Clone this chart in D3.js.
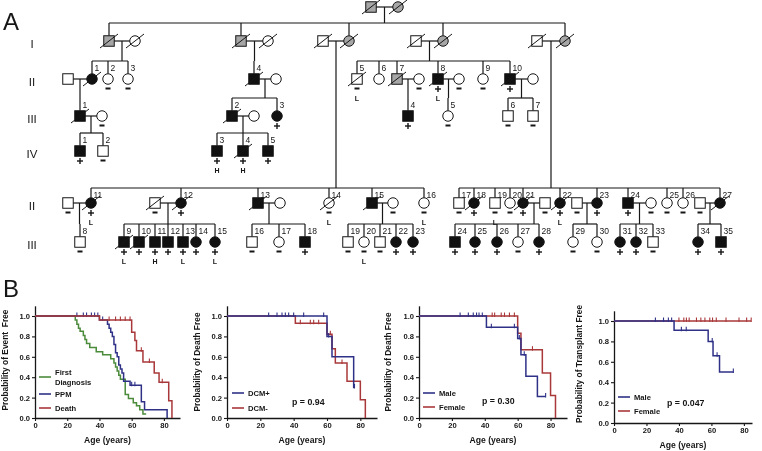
<!DOCTYPE html>
<html><head><meta charset="utf-8">
<script src="https://cdn.jsdelivr.net/npm/d3@7"></script>
<style>
body{margin:0;background:#fff}
svg{display:block;will-change:transform}
text{font-family:"Liberation Sans",Arial,Helvetica,sans-serif}
</style>
</head><body>
<svg id="c" width="762" height="451"></svg>
<script>
// ================= PANEL A : pedigree data =================
const generationLabels = ["I","II","III","IV","II","III"];
// [id, generation row, horizontal slot, sex, status(a=affected,g=grey/unknown,u=unaffected), deceased, number, test result, note]
const people = [
 ["F1",0,371,"m","g",1,"","",""],["F2",0,398,"f","g",1,"","",""],
 ["A1",1,109,"m","g",1,"","",""],["A2",1,135,"f","u",1,"","",""],
 ["B1",1,241,"m","g",1,"","",""],["B2",1,268,"f","u",1,"","",""],
 ["C1",1,323,"m","u",1,"","",""],["C2",1,349,"f","g",1,"","",""],
 ["D1",1,416,"m","u",1,"","",""],["D2",1,443,"f","g",1,"","",""],
 ["E1",1,537,"m","u",1,"","",""],["E2",1,565,"f","g",1,"","",""],
 ["sa1",2,68,"m","u",0,"","",""],["a1",2,92,"f","a",1,"1","",""],
 ["a2",2,108,"f","u",0,"2","-",""],["a3",2,128,"f","u",0,"3","-",""],
 ["b4",2,254,"m","a",1,"4","",""],["sb4",2,276,"f","u",0,"","",""],
 ["d5",2,357,"m","u",1,"5","-","L"],["d6",2,379,"f","u",0,"6","",""],
 ["d7",2,397,"m","g",1,"7","",""],["sd7",2,419,"f","u",0,"","-",""],
 ["d8",2,438,"m","a",1,"8","+","L"],["sd8",2,459,"f","u",0,"","-",""],
 ["d9",2,483,"f","u",0,"9","-",""],["d10",2,510,"m","a",1,"10","+",""],
 ["sd10",2,533,"f","u",0,"","",""],
 ["a31",3,80,"m","a",1,"1","",""],["sa31",3,102,"f","u",0,"","-",""],
 ["b32",3,232,"m","a",1,"2","",""],["sb32",3,254,"f","u",0,"","",""],
 ["b33",3,277,"f","a",0,"3","+",""],
 ["d34",3,408,"m","a",0,"4","+",""],["d35",3,448,"f","u",0,"5","-",""],
 ["d36",3,508,"m","u",0,"6","-",""],["d37",3,533,"m","u",0,"7","-",""],
 ["a41",4,80,"m","a",0,"1","+",""],["a42",4,103,"m","u",0,"2","-",""],
 ["b43",4,217,"m","a",0,"3","+","H"],["b44",4,243,"m","a",1,"4","+","H"],
 ["b45",4,268,"m","a",0,"5","+",""],
 ["sc11",5,68,"m","u",0,"","-",""],["c11",5,91,"f","a",1,"11","+","L"],
 ["sc12",5,155,"m","u",1,"","-",""],["c12",5,181,"f","a",1,"12","+",""],
 ["c13",5,258,"m","a",1,"13","",""],["sc13",5,280,"f","u",0,"","",""],
 ["c14",5,329,"f","u",1,"14","-","L"],
 ["c15",5,372,"m","a",1,"15","",""],["sc15",5,393,"f","u",0,"","-",""],
 ["c16",5,424,"f","u",0,"16","-","L"],
 ["e17",5,459,"m","u",0,"17","-",""],["e18",5,474,"f","a",1,"18","+",""],
 ["e19",5,495,"m","u",0,"19","-","L"],["e20",5,510,"f","u",0,"20","-",""],
 ["e21",5,523,"f","a",1,"21","+",""],["se21",5,545,"m","u",0,"","-",""],
 ["e22",5,560,"f","a",1,"22","+","L"],["se23",5,577,"m","u",0,"","-",""],
 ["e23",5,597,"f","a",0,"23","+",""],["e24",5,628,"m","a",0,"24","+",""],
 ["se24",5,651,"f","u",0,"","-",""],["e25",5,667,"f","u",0,"25","-",""],
 ["e26",5,683,"f","u",0,"26","-",""],["se27",5,700,"m","u",0,"","-",""],
 ["e27",5,720,"f","a",1,"27","",""],
 ["c38",6,80,"m","u",0,"8","-",""],
 ["c39",6,124,"m","a",1,"9","+","L"],["c310",6,139,"m","a",1,"10","+",""],
 ["c311",6,155,"m","a",0,"11","+","H"],["c312",6,168,"m","a",0,"12","+",""],
 ["c313",6,183,"m","a",0,"13","+","L"],["c314",6,196,"f","a",0,"14","+",""],
 ["c315",6,215,"f","a",0,"15","+","L"],
 ["c316",6,252,"m","u",0,"16","-",""],["c317",6,279,"f","u",0,"17","-",""],
 ["c318",6,305,"m","a",0,"18","+",""],
 ["c319",6,348,"m","u",0,"19","-",""],["c320",6,364,"f","u",0,"20","-","L"],
 ["c321",6,380,"m","u",0,"21","-",""],["c322",6,396,"f","a",0,"22","+",""],
 ["c323",6,413,"f","a",0,"23","+",""],
 ["e324",6,455,"m","a",0,"24","+",""],["e325",6,475,"f","a",0,"25","+",""],
 ["e326",6,497,"f","a",0,"26","+",""],["e327",6,518,"f","u",0,"27","-",""],
 ["e328",6,539,"f","a",0,"28","+",""],
 ["e329",6,573,"f","u",0,"29","-",""],["e330",6,597,"f","u",0,"30","-",""],
 ["e331",6,620,"f","a",0,"31","+",""],["e332",6,636,"f","a",0,"32","+",""],
 ["e333",6,653,"m","u",0,"33","-",""],
 ["e334",6,698,"f","a",0,"34","+",""],["e335",6,721,"m","a",0,"35","+",""]
];
const couples = [
 ["F1","F2"],["A1","A2"],["B1","B2"],["C1","C2"],["D1","D2"],["E1","E2"],
 ["sa1","a1"],["b4","sb4"],["d7","sd7"],["d8","sd8"],["d10","sd10"],
 ["a31","sa31"],["b32","sb32"],
 ["sc11","c11"],["sc12","c12"],["c13","sc13"],["c15","sc15"],
 ["e21","se21"],["se23","e23"],["e24","se24"],["se27","e27"]
];
const sibships = [
 [["F1","F2"],["A1","B1","C2","D2","E2"]],
 [["A1","A2"],["a1","a2","a3"]],
 [["B1","B2"],["b4"]],
 [["D1","D2"],["d5","d6","d7","d8","d9","d10"]],
 [["sa1","a1"],["a31"]],
 [["b4","sb4"],["b32","b33"]],
 [["d7","sd7"],["d34"]],
 [["d8","sd8"],["d35"]],
 [["d10","sd10"],["d36","d37"]],
 [["a31","sa31"],["a41","a42"]],
 [["b32","sb32"],["b43","b44","b45"]],
 [["C1","C2"],["c11","c12","c13","c14","c15","c16"]],
 [["E1","E2"],["e17","e18","e19","e20","e21","e22","e23","e24","e25","e26","e27"]],
 [["sc11","c11"],["c38"]],
 [["sc12","c12"],["c39","c310","c311","c312","c313","c314","c315"]],
 [["c13","sc13"],["c316","c317","c318"]],
 [["c15","sc15"],["c319","c320","c321","c322","c323"]],
 [["e21","se21"],["e324","e325","e326","e327","e328"]],
 [["se23","e23"],["e329","e330"]],
 [["e24","se24"],["e331","e332","e333"]],
 [["se27","e27"],["e334","e335"]]
];

// ================= PANEL B : survival data =================
const ageTicks = [0,20,40,60,80];
const probTicks = [0,0.2,0.4,0.6,0.8,1.0];
// plot 1 : event free
const firstDiagnosis = [[0,1],[25,0.96],[26,0.92],[27,0.88],[28,0.85],[30,0.81],[31,0.77],[32,0.73],[34,0.69],[38,0.65],[42,0.62],[47,0.58],[49,0.54],[50,0.50],[51,0.46],[52,0.42],[53,0.38],[56,0.23],[58,0.19],[61,0.15],[63,0.12],[65,0.08],[67,0.04],[69,0.04]];
const firstDiagnosisCens = [];
const ppm = [[0,1],[40,0.96],[45,0.92],[46,0.88],[47,0.84],[48,0.80],[49,0.72],[50,0.64],[51,0.60],[52,0.52],[53,0.48],[54,0.44],[55,0.36],[59,0.32],[66,0.16],[68,0.08],[82,0]];
const ppmCens = [[26,1],[30,1],[32,1],[35,1],[37,1],[39,1],[42,0.96],[60,0.32],[62,0.32]];
const death = [[0,1],[40,0.96],[60,0.84],[62,0.76],[63,0.66],[67,0.55],[74,0.44],[77,0.35],[83,0.17],[85,0]];
const deathCens = [[46,0.96],[50,0.96],[53,0.96],[56,0.96],[59,0.96],[66,0.66],[71,0.55],[79,0.35]];
// plot 2 : death free by DCM
const dcmPos = [[0,1],[60,0.80],[63,0.60],[76,0.30],[76.5,0.30]];
const dcmPosCens = [[25,1],[30,1],[33,1],[35,1],[37,1],[40,1],[46,1],[58,1],[61,0.8],[76.5,0.3]];
const dcmNeg = [[0,1],[41,0.93],[60,0.82],[63,0.68],[65,0.54],[72,0.36],[80,0.18],[83,0]];
const dcmNegCens = [[44,0.93],[50,0.93],[52,0.93],[55,0.93],[62,0.82],[69,0.54]];
// plot 3 : death free by sex
const deathMale = [[0,1],[41,0.89],[60,0.78],[62,0.62],[65,0.41],[72,0.21],[77,0.21]];
const deathMaleCens = [[25,1],[30,1],[33,1],[35,1],[36.5,1],[38.5,1],[44,0.89],[58,0.89],[61,0.78],[64,0.62],[77,0.21]];
const deathFemale = [[0,1],[60,0.83],[62,0.67],[75,0.44],[80,0.22],[83,0]];
const deathFemaleCens = [[44.5,1],[46,1],[50,1],[52,1],[55,1],[58,1],[69,0.67]];
// plot 4 : transplant free by sex
const txMale = [[0,1],[37,0.91],[58,0.80],[61,0.66],[65,0.50],[73.5,0.50]];
const txMaleCens = [[25.5,1],[30.5,1],[33.5,1],[35.5,1],[41.5,0.91],[44.5,0.91],[60.5,0.80],[63.5,0.66],[73.5,0.50]];
const txFemale = [[0,1],[84.5,1]];
const txFemaleCens = [[40,1],[43,1],[44.6,1],[46.3,1],[50.8,1],[53.5,1],[56,1],[59,1],[60.7,1],[63,1],[69,1],[77,1],[81.7,1],[84.5,1]];

// ================= drawing =================
const svg = d3.select("#c");
const INK = "#161616";

// panel letters
svg.append("text").attr("x",3).attr("y",30).attr("font-size",24).attr("fill",INK).text("A");
svg.append("text").attr("x",3).attr("y",297).attr("font-size",24).attr("fill",INK).text("B");

// ---- pedigree ----
const rowY = [7, 41, 79, 116, 151, 203, 242];
const rowLabelRows = [1,2,3,4,5,6];
const SZ = 10.5;
const xs = d3.scaleLinear().domain([0,762]).range([0,762]);
const ys = d3.scaleOrdinal().domain(d3.range(rowY.length)).range(rowY);
const P = new Map(people.map(p => [p[0], {id:p[0],row:p[1],pos:p[2],sex:p[3],st:p[4],dec:p[5],num:p[6],test:p[7],note:p[8]}]));
const X = d => xs(d.pos), Y = d => ys(d.row);

const gA = svg.append("g");
const gLines = gA.append("g").attr("stroke",INK).attr("stroke-width",1.2).attr("fill","none");

generationLabels.forEach((t,i) => {
  gA.append("text").attr("x",32).attr("y",ys(rowLabelRows[i])+7).attr("text-anchor","middle")
    .attr("font-size",11.5).attr("fill",INK).text(t);
});

couples.forEach(([a,b]) => {
  const A=P.get(a), B=P.get(b);
  gLines.append("line").attr("x1",X(A)).attr("x2",X(B)).attr("y1",Y(A)).attr("y2",Y(A));
});

const gNum = gA.append("g").attr("font-size",8.5).attr("fill",INK);
sibships.forEach(([par,kidsId]) => {
  const A=P.get(par[0]), B=P.get(par[1]);
  const mx=(X(A)+X(B))/2, py=Y(A);
  const kids = kidsId.map(k=>P.get(k));
  const ky = Y(kids[0]);
  const sy = kids[0].row===5 ? 188 : ky-18;
  gLines.append("line").attr("x1",mx).attr("x2",mx).attr("y1",py).attr("y2",sy);
  const ext = d3.extent(kids.map(X).concat([mx]));
  if (ext[1]-ext[0] > 1) gLines.append("line").attr("x1",ext[0]).attr("x2",ext[1]).attr("y1",sy).attr("y2",sy);
  kids.forEach(k => {
    gLines.append("line").attr("x1",X(k)).attr("x2",X(k)).attr("y1",sy).attr("y2",Y(k)-SZ/2);
    if (k.num) gNum.append("text").attr("x",X(k)+2.5).attr("y",sy+9.5).text(k.num);
  });
});

const fillOf = {a:"#111", g:"#a6a6a6", u:"#fff"};
const gSym = gA.append("g");
P.forEach(d => {
  const x=X(d), y=Y(d);
  if (d.sex==="m") gSym.append("rect").attr("x",x-SZ/2).attr("y",y-SZ/2).attr("width",SZ).attr("height",SZ)
      .attr("fill",fillOf[d.st]).attr("stroke",INK).attr("stroke-width",1);
  else gSym.append("circle").attr("cx",x).attr("cy",y).attr("r",SZ/2)
      .attr("fill",fillOf[d.st]).attr("stroke",INK).attr("stroke-width",1);
  if (d.dec) gSym.append("line").attr("x1",x-9).attr("y1",y+7).attr("x2",x+9).attr("y2",y-7)
      .attr("stroke",INK).attr("stroke-width",1);
  if (d.test==="+") {
    gSym.append("line").attr("x1",x-3).attr("x2",x+3).attr("y1",y+10).attr("y2",y+10).attr("stroke",INK).attr("stroke-width",1.4);
    gSym.append("line").attr("x1",x).attr("x2",x).attr("y1",y+7).attr("y2",y+13).attr("stroke",INK).attr("stroke-width",1.4);
  } else if (d.test==="-") {
    gSym.append("rect").attr("x",x-2.5).attr("y",y+8.5).attr("width",5).attr("height",2).attr("fill",INK);
  }
  if (d.note) gSym.append("text").attr("x",x).attr("y",y+21.5).attr("text-anchor","middle")
      .attr("font-size",7).attr("font-weight","bold").attr("fill",INK).text(d.note);
});

// ---- survival plots ----
const BLUE="#2f3187", RED="#a9383a", GREEN="#4b8b3b";
const panels = [
 {x0:35,x1:180,xmax:90,y0:418,y1:316,ylab:"Probability of Event  Free",ylx:8,yly:360,
  series:[{d:firstDiagnosis,c:firstDiagnosisCens,col:GREEN},{d:ppm,c:ppmCens,col:BLUE},{d:death,c:deathCens,col:RED}],
  legend:[{col:GREEN,t:["First","Diagnosis"],y:377},{col:BLUE,t:["PPM"],y:394},{col:RED,t:["Death"],y:408}],lx:39,p:null},
 {x0:227,x1:377,xmax:90,y0:418,y1:316,ylab:"Probability of Death Free",ylx:200,yly:362,
  series:[{d:dcmNeg,c:dcmNegCens,col:RED},{d:dcmPos,c:dcmPosCens,col:BLUE}],
  legend:[{col:BLUE,t:["DCM+"],y:393},{col:RED,t:["DCM-"],y:408}],lx:232,p:{t:"p = 0.94",x:292,y:405}},
 {x0:419,x1:567,xmax:90,y0:418,y1:316,ylab:"Probability of Death Free",ylx:391,yly:362,
  series:[{d:deathFemale,c:deathFemaleCens,col:RED},{d:deathMale,c:deathMaleCens,col:BLUE}],
  legend:[{col:BLUE,t:["Male"],y:393},{col:RED,t:["Female"],y:407}],lx:423,p:{t:"p = 0.30",x:482,y:404}},
 {x0:614,x1:752,xmax:85,y0:423,y1:321,ylab:"Probability of Transplant Free",ylx:582,yly:364,
  series:[{d:txFemale,c:txFemaleCens,col:RED},{d:txMale,c:txMaleCens,col:BLUE}],
  legend:[{col:BLUE,t:["Male"],y:397},{col:RED,t:["Female"],y:411}],lx:618,p:{t:"p = 0.047",x:667,y:406}}
];

panels.forEach(pn => {
  const g = svg.append("g");
  const x = d3.scaleLinear().domain([0,pn.xmax]).range([pn.x0,pn.x1]);
  const y = d3.scaleLinear().domain([0,1]).range([pn.y0,pn.y1]);
  const yAx = d3.scaleLinear().domain([0,1.1]).range([pn.y0, y(1.1)]);
  const ga = g.append("g").attr("transform",`translate(${pn.x0},0)`)
    .call(d3.axisLeft(yAx).tickValues(probTicks).tickFormat(d3.format(".1f")).tickSize(3).tickSizeOuter(0).tickPadding(2));
  const gb = g.append("g").attr("transform",`translate(0,${pn.y0})`)
    .call(d3.axisBottom(x).tickValues(ageTicks).tickSize(3).tickSizeOuter(0).tickPadding(2));
  [ga,gb].forEach(a => {
    a.select(".domain").attr("stroke",INK).attr("stroke-width",1.3);
    a.selectAll(".tick line").attr("stroke",INK).attr("stroke-width",1.1);
    a.selectAll(".tick text").attr("font-size",7.6).attr("font-weight","bold").attr("fill",INK)
      .attr("font-family",'"Liberation Sans",Arial,sans-serif');
  });
  g.append("text").attr("x",(pn.x0+pn.x1)/2).attr("y",pn.y0+25).attr("text-anchor","middle")
    .attr("font-size",8.6).attr("font-weight","bold").attr("fill",INK).text("Age (years)");
  g.append("text").attr("transform",`translate(${pn.ylx},${pn.yly}) rotate(-90)`).attr("text-anchor","middle")
    .attr("font-size",8.4).attr("font-weight","bold").attr("fill",INK).style("white-space","pre").text(pn.ylab);
  const line = d3.line().x(d=>x(d[0])).y(d=>y(d[1])).curve(d3.curveStepAfter);
  pn.series.forEach(s => {
    g.append("path").attr("d",line(s.d)).attr("fill","none").attr("stroke",s.col).attr("stroke-width",1.5);
    g.selectAll(null).data(s.c).enter().append("line")
      .attr("x1",d=>x(d[0])).attr("x2",d=>x(d[0])).attr("y1",d=>y(d[1])-3.5).attr("y2",d=>y(d[1])+1)
      .attr("stroke",s.col).attr("stroke-width",1.1);
  });
  pn.legend.forEach(l => {
    g.append("line").attr("x1",pn.lx).attr("x2",pn.lx+12).attr("y1",l.y).attr("y2",l.y).attr("stroke",l.col).attr("stroke-width",1.6);
    l.t.forEach((t,i) => g.append("text").attr("x",pn.lx+16).attr("y",l.y + 3 + (l.t.length>1 ? (i===0?-5:5) : 0))
      .attr("font-size",7.6).attr("font-weight","bold").attr("fill",INK).text(t));
  });
  if (pn.p) g.append("text").attr("x",pn.p.x).attr("y",pn.p.y).attr("font-size",8.8).attr("font-weight","bold").attr("fill",INK).text(pn.p.t);
});
</script>
</body></html>
